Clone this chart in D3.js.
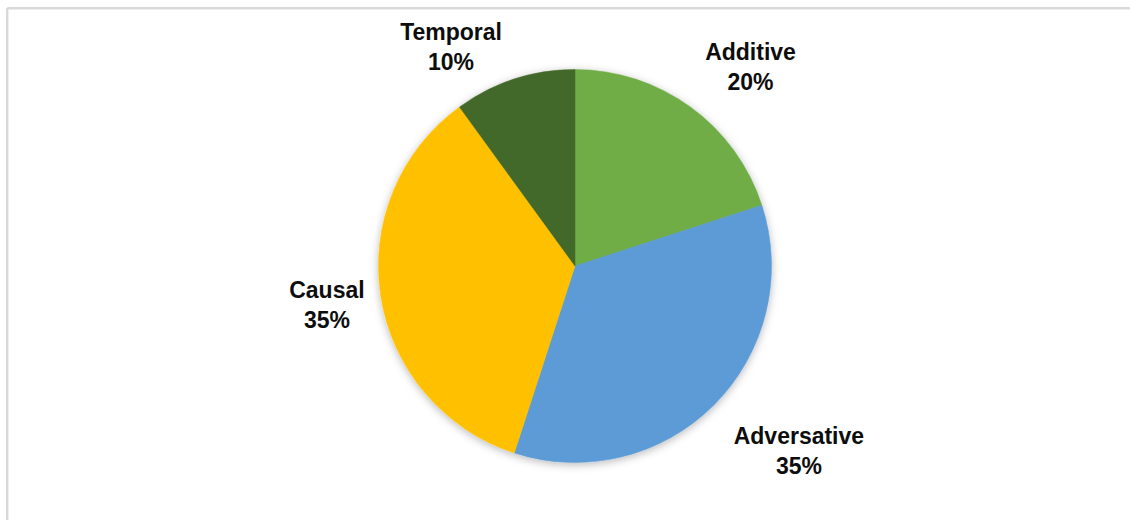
<!DOCTYPE html>
<html>
<head>
<meta charset="utf-8">
<script src="https://cdn.jsdelivr.net/npm/d3@7"></script>
<style>
  html, body { margin: 0; padding: 0; background: #ffffff; }
  svg { display: block; }
</style>
</head>
<body>
<svg id="chart" width="1130" height="520"></svg>
<script>
// Connective types and their share of occurrences (percent)
const categories = ["Additive", "Adversative", "Causal", "Temporal"];
const shares = [20, 35, 35, 10];
const sliceColors = ["#70AD47", "#5B9BD5", "#FFC000", "#43682B"];

const svg = d3.select("#chart");
const W = 1130, H = 520;

// Chart area frame (top and left edges visible)
svg.append("line").attr("x1", 7.2).attr("y1", 8.2).attr("x2", W).attr("y2", 8.2)
  .attr("stroke", "#d9d9d9").attr("stroke-width", 2.4);
svg.append("line").attr("x1", 7.2).attr("y1", 8.2).attr("x2", 7.2).attr("y2", H)
  .attr("stroke", "#d9d9d9").attr("stroke-width", 2.4);

// Soft shadow under the pie
const defs = svg.append("defs");
const f = defs.append("filter").attr("id", "pieShadow")
  .attr("x", "-20%").attr("y", "-20%").attr("width", "140%").attr("height", "140%");
f.append("feDropShadow").attr("dx", 0).attr("dy", 2).attr("stdDeviation", 4)
  .attr("flood-color", "#000").attr("flood-opacity", 0.28);

const cx = 575, cy = 266, R = 196.5;
const data = categories.map((c, i) => ({ name: c, value: shares[i], color: sliceColors[i] }));

const pie = d3.pie().value(d => d.value).sort(null).startAngle(0).endAngle(2 * Math.PI);
const arc = d3.arc().innerRadius(0).outerRadius(R);
const arcs = pie(data);

const g = svg.append("g").attr("transform", `translate(${cx},${cy})`);
g.append("g").attr("filter", "url(#pieShadow)")
  .selectAll("path").data(arcs).join("path")
  .attr("d", arc)
  .attr("fill", d => d.data.color)
  .attr("stroke", d => d.data.color)
  .attr("stroke-width", 0.5);

// Outside-end labels: anchored just beyond the rim at each slice's mid-angle,
// with small per-label offsets for best-fit placement
const labelGap = 21, lineH = 30, fontSize = 23;
const nudge = { Additive: [21, -3], Adversative: [24, 13], Causal: [4, 1], Temporal: [-41, 11] };

const ctx = document.createElement("canvas").getContext("2d");
ctx.font = `bold ${fontSize}px "Liberation Sans", Arial, sans-serif`;

const labels = svg.append("g")
  .attr("font-family", '"Liberation Sans", Arial, sans-serif')
  .attr("font-weight", "bold")
  .attr("font-size", fontSize)
  .attr("fill", "#0d0d0d")
  .attr("text-anchor", "middle");

arcs.forEach(a => {
  const mid = (a.startAngle + a.endAngle) / 2;
  const s = Math.sin(mid), c = Math.cos(mid);
  const line1 = a.data.name;
  const line2 = Math.round(a.data.value) + "%";
  const w = Math.max(ctx.measureText(line1).width, ctx.measureText(line2).width);
  const h = 50;
  const ax = cx + s * (R + labelGap), ay = cy - c * (R + labelGap);
  const n = nudge[a.data.name];
  const bx = ax + s * w / 2 + n[0];
  const by = ay - c * h / 2 + n[1];
  const t = labels.append("text").attr("x", bx).attr("y", by - 6.5);
  t.append("tspan").attr("x", bx).attr("y", by - 6.5).text(line1);
  t.append("tspan").attr("x", bx).attr("y", by - 6.5 + lineH).text(line2);
});
</script>
</body>
</html>
